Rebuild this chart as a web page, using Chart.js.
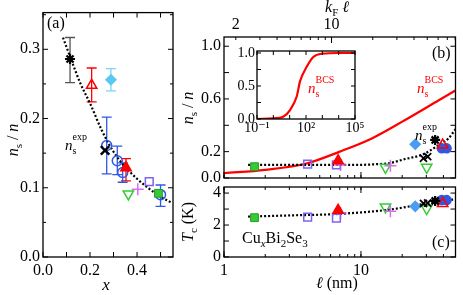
<!DOCTYPE html>
<html>
<head>
<meta charset="utf-8">
<script src="https://cdn.jsdelivr.net/npm/chart.js@4.4.1/dist/chart.umd.min.js"></script>
<style>
html, body { margin: 0; padding: 0; background: #fff; }
#wrap { position: relative; width: 463px; height: 295px; overflow: hidden; }
#wrap canvas { position: absolute; left: 0; top: 0; }
</style>
</head>
<body>
<div id="wrap">
  <canvas id="chartA" width="463" height="295"></canvas>
  <canvas id="chartB" width="463" height="295"></canvas>
  <canvas id="chartC" width="463" height="295"></canvas>
  <canvas id="chartInset" width="463" height="295"></canvas>
</div>
<script>
// ---- panel (a): n_s/n vs Cu content x ----
const aXTicks = [0, 0.2, 0.4];
const aYTicks = [0, 0.1, 0.2, 0.3];
const aStarX = [0.115], aStarNs = [0.286], aStarLo = [0.252], aStarHi = [0.317];
const aTriOpenX = [0.207], aTriOpenNs = [0.248], aTriOpenLo = [0.224], aTriOpenHi = [0.273];
const aDiamondX = [0.289], aDiamondNs = [0.256], aDiamondLo = [0.240], aDiamondHi = [0.272];
const aCircleX = [0.271, 0.316, 0.339, 0.500];
const aCircleNs = [0.161, 0.139, 0.122, 0.090];
const aCircleLo = [0.120, 0.119, 0.108, 0.073];
const aCircleHi = [0.202, 0.160, 0.136, 0.104];
const aCrossX = [0.264], aCrossNs = [0.154];
const aTriX = [0.353], aTriNs = [0.129], aTriLo = [0.110], aTriHi = [0.142];
const aTriDownX = [0.363], aTriDownNs = [0.091];
const aPlusX = [0.403], aPlusNs = [0.098];
const aSquareOpenX = [0.452], aSquareOpenNs = [0.109];
const aSquareX = [0.491], aSquareNs = [0.092];
const aFitX = [0.085, 0.12, 0.16, 0.2, 0.25, 0.3, 0.35, 0.4, 0.45, 0.5, 0.55];
const aFitNs = [0.317, 0.285, 0.25, 0.222, 0.183, 0.152, 0.13, 0.113, 0.099, 0.087, 0.078];

// ---- panels (b) and (c): n_s/n and Tc vs mean free path l (nm) ----
const lTicks = [1, 10];
const kflTicks = [2, 10];
const kF = 1.64; // k_F in 1/nm, top axis = kF * l
const bYTicks = [0, 0.2, 0.6, 1.0];
const cYTicks = [0, 2, 4];
const gSquareL = [1.67], gSquareNs = [0.086], gSquareTc = [2.46];
const pSquareL = [4.08, 6.62], pSquareNs = [0.106, 0.099], pSquareTc = [2.5, 2.43];
const rTriL = [6.81], rTriNs = [0.131], rTriTc = [2.92];
const plusL = [7.1, 16.4], plusNs = [0.098, 0.093], plusTc = [2.75, 2.86];
const gTriDownL = [15.1, 30.2], gTriDownNs = [0.081, 0.081], gTriDownTc = [3.13, 3.03];
const diamondL = [24.9], diamondNs = [0.256], diamondTc = [3.17];
const crossL = [28.6, 30.7], crossNs = [0.15, 0.162], crossTc = [3.35, 3.38];
const starL = [34.8], starNs = [0.289], starTc = [3.51];
const rTriOpenL = [39.5], rTriOpenNs = [0.25], rTriOpenTc = [3.35];
const bCircleL = [38.9, 42.2], bCircleNs = [0.225, 0.225], bCircleTc = [3.56, 3.56];
const bFitL = [1.5, 3, 5, 8, 10, 13, 16, 21, 28, 37, 43.5, 49];
const bFitNs = [0.1, 0.1, 0.1, 0.1, 0.1, 0.105, 0.112, 0.144, 0.177, 0.25, 0.3, 0.37];
const bcsL = [1, 2, 4, 7, 12, 21, 37, 50];
const bcsNs = [0.036, 0.062, 0.11, 0.2, 0.3, 0.44, 0.59, 0.67];
const cFitL = [1.5, 3, 7, 16, 28, 40, 49];
const cFitTc = [2.53, 2.6, 2.7, 2.96, 3.3, 3.5, 3.62];

// ---- inset: n_s^BCS vs k_F l ----
const insetXTicks = [0.1, 100, 1e5];
const insetYTicks = [0, 0.5, 1.0];
const insetKfl = [0.1, 1, 4, 10.5, 27, 43, 110, 280, 1000, 1e4, 1e5];
const insetNs = [0.0, 0.01, 0.035, 0.136, 0.34, 0.57, 0.79, 0.94, 0.99, 1.0, 1.0];

const FONT = '"Liberation Serif", "DejaVu Serif", serif';
Chart.defaults.font.family = FONT;
Chart.defaults.font.size = 16;
Chart.defaults.color = '#000';
Chart.defaults.animation = false;
Chart.defaults.events = [];
Chart.defaults.plugins.legend.display = false;
Chart.defaults.plugins.tooltip.enabled = false;

const RED = '#ff0000', BLUE = '#2f58e6', GREEN = '#33cc33', PURPLE = '#7f62f0', MAGENTA = '#d86ef0';

function pts(xs, ys) { return xs.map((x, i) => ({ x, y: ys[i] })); }

function marker(xs, ys, style, color, o = {}) {
    return {
        data: pts(xs, ys),
        pointStyle: style,
        pointRadius: o.r || 5,
        pointBorderWidth: o.w || 1.5,
        pointRotation: o.rot || 0,
        borderColor: color,
        backgroundColor: o.fill || 'rgba(0,0,0,0)',
        errLo: o.lo, errHi: o.hi, errColor: o.errColor || color
    };
}

function curve(xs, ys, color, dash, w) {
    return {
        data: pts(xs, ys), showLine: true, pointRadius: 0,
        borderColor: color, borderWidth: w || 2, borderDash: dash || [],
        cubicInterpolationMode: 'monotone', fill: false
    };
}

// tick positions for log axes: 1..9 in each decade
function decadeTicks(lo, hi) {
    const out = [];
    for (let e = Math.floor(Math.log10(lo)); e <= Math.ceil(Math.log10(hi)); e++) {
        for (let m = 1; m < 10; m++) {
            const v = m * Math.pow(10, e);
            if (v >= lo * 0.999 && v <= hi * 1.001) out.push(v);
        }
    }
    return out;
}
function steps(lo, hi, d) {
    const out = [];
    for (let v = lo; v <= hi + 1e-9; v += d) out.push(+v.toFixed(4));
    return out;
}

// box around the plot area with inward ticks
const frame = {
    id: 'frame',
    beforeDraw(chart, args, o) {
        if (!o.fill) return;
        const a = chart.chartArea;
        chart.ctx.save();
        chart.ctx.fillStyle = o.fill;
        chart.ctx.fillRect(a.left, a.top, a.width, a.height);
        chart.ctx.restore();
    },
    afterDraw(chart, args, o) {
        const ctx = chart.ctx, a = chart.chartArea;
        ctx.save();
        ctx.strokeStyle = '#000';
        ctx.lineWidth = 1.3;
        ctx.strokeRect(a.left, a.top, a.width, a.height);
        ctx.lineWidth = 1;
        (o.ticks || []).forEach(t => {
            const s = chart.scales[t.axis];
            t.values.forEach(v => {
                const p = s.getPixelForValue(v);
                ctx.beginPath();
                if (s.isHorizontal()) {
                    if (p < a.left - 0.5 || p > a.right + 0.5) return;
                    if (t.sides.includes('bottom')) { ctx.moveTo(p, a.bottom); ctx.lineTo(p, a.bottom - t.len); }
                    if (t.sides.includes('top')) { ctx.moveTo(p, a.top); ctx.lineTo(p, a.top + t.len); }
                } else {
                    if (p < a.top - 0.5 || p > a.bottom + 0.5) return;
                    if (t.sides.includes('left')) { ctx.moveTo(a.left, p); ctx.lineTo(a.left + t.len, p); }
                    if (t.sides.includes('right')) { ctx.moveTo(a.right, p); ctx.lineTo(a.right - t.len, p); }
                }
                ctx.stroke();
            });
        });
        ctx.restore();
    }
};

// vertical error bars with caps
const errorBars = {
    id: 'errorBars',
    beforeDatasetsDraw(chart) {
        const ctx = chart.ctx;
        chart.data.datasets.forEach((ds, i) => {
            if (!ds.errLo) return;
            const meta = chart.getDatasetMeta(i);
            const xs = chart.scales[meta.xAxisID], ys = chart.scales[meta.yAxisID];
            ctx.save();
            ctx.strokeStyle = ds.errColor;
            ctx.lineWidth = 1.3;
            ds.data.forEach((p, j) => {
                const px = xs.getPixelForValue(p.x);
                const y1 = ys.getPixelForValue(ds.errLo[j]);
                const y2 = ys.getPixelForValue(ds.errHi[j]);
                ctx.beginPath();
                ctx.moveTo(px, y1); ctx.lineTo(px, y2);
                ctx.moveTo(px - 5, y1); ctx.lineTo(px + 5, y1);
                ctx.moveTo(px - 5, y2); ctx.lineTo(px + 5, y2);
                ctx.stroke();
            });
            ctx.restore();
        });
    }
};

// text with sub/superscripts
function T(t, size, o = {}) { return Object.assign({ t, size }, o); }
const texts = {
    id: 'texts',
    afterDraw(chart, args, o) {
        const ctx = chart.ctx;
        (o.items || []).forEach(item => {
            ctx.save();
            ctx.translate(item.x, item.y);
            if (item.rotate) ctx.rotate(item.rotate);
            ctx.fillStyle = item.color || '#000';
            ctx.textBaseline = 'alphabetic';
            let x = 0, prev = 0;
            const pos = [];
            item.parts.forEach(p => {
                ctx.font = (p.it ? 'italic ' : '') + p.size + 'px ' + FONT;
                const start = p.stack ? prev : x;
                pos.push(start);
                prev = start;
                x = Math.max(x, start + ctx.measureText(p.t).width);
            });
            const shift = item.align === 'center' ? -x / 2 : 0;
            item.parts.forEach((p, i) => {
                ctx.font = (p.it ? 'italic ' : '') + p.size + 'px ' + FONT;
                ctx.fillText(p.t, pos[i] + shift, p.dy || 0);
            });
            ctx.restore();
        });
    }
};

Chart.register(frame, errorBars, texts);

const hiddenGrid = { display: false, drawTicks: false };
const noBorder = { display: false };
const setTicks = list => s => { s.ticks = list.map(v => ({ value: v })); };

const nsParts = [T('n', 16, { it: true }), T('s', 11, { dy: 4 }), T(' / ', 16), T('n', 16, { it: true })];
const nsExp = [T('n', 15, { it: true }), T('s', 10, { dy: 4 }), T('exp', 10, { dy: -10, stack: true })];
const nsBcs = [T('n', 15, { it: true }), T('s', 10, { dy: 4 }), T('BCS', 10, { dy: -10, stack: true })];

// ---------- panel (a) ----------
new Chart(document.getElementById('chartA'), {
    type: 'scatter',
    data: { datasets: [
        marker(aStarX, aStarNs, 'star', '#000', { r: 5, w: 2.2, lo: aStarLo, hi: aStarHi, errColor: '#555' }),
        marker(aCrossX, aCrossNs, 'crossRot', '#000', { r: 6, w: 2.4 }),
        marker(aSquareX, aSquareNs, 'rect', '#2a9a2a', { r: 5.5, w: 1, fill: GREEN }),
        marker(aTriOpenX, aTriOpenNs, 'triangle', RED, { r: 6, lo: aTriOpenLo, hi: aTriOpenHi }),
        marker(aTriX, aTriNs, 'triangle', RED, { r: 6, fill: RED, lo: aTriLo, hi: aTriHi }),
        marker(aDiamondX, aDiamondNs, 'rectRot', '#5bc8f2', { r: 5, fill: '#5bc8f2', lo: aDiamondLo, hi: aDiamondHi, errColor: '#7ad6f6' }),
        marker(aCircleX, aCircleNs, 'circle', BLUE, { r: 5, lo: aCircleLo, hi: aCircleHi }),
        marker(aTriDownX, aTriDownNs, 'triangle', GREEN, { r: 6, rot: 180 }),
        marker(aPlusX, aPlusNs, 'cross', MAGENTA, { r: 6 }),
        marker(aSquareOpenX, aSquareOpenNs, 'rect', PURPLE, { r: 5.5 }),
        curve(aFitX, aFitNs, '#000', [2, 2], 2.2)
    ] },
    options: {
        responsive: false,
        layout: { padding: { left: 0, top: 10, right: 290, bottom: 0 } },
        scales: {
            x: {
                type: 'linear', min: 0, max: 0.553,
                afterFit: s => { s.height = 38; },
                afterBuildTicks: setTicks(aXTicks),
                grid: hiddenGrid, border: noBorder,
                ticks: { padding: 4, autoSkip: false, maxRotation: 0, callback: v => v.toFixed(1) }
            },
            y: {
                type: 'linear', min: 0, max: 0.353,
                afterFit: s => { s.width = 43; },
                afterBuildTicks: setTicks(aYTicks),
                grid: hiddenGrid, border: noBorder,
                ticks: { padding: 3, autoSkip: false, callback: v => v.toFixed(1) }
            }
        },
        plugins: {
            frame: { ticks: [
                { axis: 'x', values: steps(0, 0.5, 0.1), sides: ['bottom', 'top'], len: 5 },
                { axis: 'y', values: aYTicks, sides: ['left', 'right'], len: 5 },
                { axis: 'y', values: [0.05, 0.15, 0.25, 0.35], sides: ['left', 'right'], len: 3 }
            ] },
            texts: { items: [
                { x: 47, y: 28, parts: [T('(a)', 16)] },
                { x: 65, y: 150, parts: nsExp },
                { x: 18, y: 140, rotate: -Math.PI / 2, align: 'center', parts: nsParts },
                { x: 106, y: 290, align: 'center', parts: [T('x', 17, { it: true })] }
            ] }
        }
    }
});

// ---------- panel (b) ----------
function bcMarkers(key) {
    const pick = (ns, tc) => key === 'ns' ? ns : tc;
    return [
        marker(starL, pick(starNs, starTc), 'star', '#000', { r: 5, w: 2.2 }),
        marker(crossL, pick(crossNs, crossTc), 'crossRot', '#000', { r: 5, w: 1.8 }),
        marker(rTriOpenL, pick(rTriOpenNs, rTriOpenTc), 'triangle', RED, { r: 6 }),
        marker(bCircleL, pick(bCircleNs, bCircleTc), 'circle', BLUE, { r: 4.5, fill: BLUE }),
        marker(diamondL, pick(diamondNs, diamondTc), 'rectRot', '#4c9cf0', { r: 5, fill: '#4c9cf0' }),
        marker(rTriL, pick(rTriNs, rTriTc), 'triangle', RED, { r: 6, fill: RED }),
        marker(gSquareL, pick(gSquareNs, gSquareTc), 'rect', '#2a9a2a', { r: 5.5, w: 1, fill: GREEN }),
        marker(pSquareL, pick(pSquareNs, pSquareTc), 'rect', PURPLE, { r: 5.5 }),
        marker(plusL, pick(plusNs, plusTc), 'cross', MAGENTA, { r: 6 }),
        marker(gTriDownL, pick(gTriDownNs, gTriDownTc), 'triangle', GREEN, { r: 6, rot: 180 })
    ];
}

const lMinor = decadeTicks(1, 49);
const kMinor = decadeTicks(kF, kF * 49);

new Chart(document.getElementById('chartB'), {
    type: 'scatter',
    data: { datasets: bcMarkers('ns').concat([
        curve(bFitL, bFitNs, '#000', [2, 2], 2.2),
        curve(bcsL, bcsNs, RED, [], 2.2)
    ]) },
    options: {
        responsive: false,
        layout: { padding: { left: 180, top: 0, right: 6, bottom: 117 } },
        scales: {
            x: { type: 'logarithmic', min: 1, max: 49, display: false },
            x2: {
                type: 'logarithmic', position: 'top', min: kF * 1, max: kF * 49,
                afterFit: s => { s.height = 37; },
                afterBuildTicks: setTicks(kflTicks),
                grid: hiddenGrid, border: noBorder,
                ticks: { padding: 3, autoSkip: false, maxRotation: 0, callback: v => String(v) }
            },
            y: {
                type: 'linear', min: 0, max: 1.07,
                afterFit: s => { s.width = 44; },
                afterBuildTicks: setTicks(bYTicks),
                grid: hiddenGrid, border: noBorder,
                ticks: { padding: 3, autoSkip: false, callback: v => v.toFixed(1) }
            }
        },
        plugins: {
            frame: { ticks: [
                { axis: 'x', values: lMinor, sides: ['bottom'], len: 3 },
                { axis: 'x', values: lTicks, sides: ['bottom'], len: 6 },
                { axis: 'x2', values: kMinor, sides: ['top'], len: 3 },
                { axis: 'x2', values: [10], sides: ['top'], len: 6 },
                { axis: 'y', values: steps(0, 1.0, 0.2), sides: ['left', 'right'], len: 5 }
            ] },
            texts: { items: [
                { x: 432, y: 58, parts: [T('(b)', 16)] },
                { x: 417, y: 93, color: RED, parts: nsBcs },
                { x: 415, y: 140, parts: nsExp },
                { x: 193, y: 108, rotate: -Math.PI / 2, align: 'center', parts: nsParts },
                { x: 337, y: 12, align: 'center', parts: [T('k', 16, { it: true }), T('F', 11, { dy: 4 }), T(' \u2113', 16, { it: true })] }
            ] }
        }
    }
});

// ---------- panel (c) ----------
new Chart(document.getElementById('chartC'), {
    type: 'scatter',
    data: { datasets: bcMarkers('tc').concat([
        curve(cFitL, cFitTc, '#000', [2, 2], 2.2)
    ]) },
    options: {
        responsive: false,
        layout: { padding: { left: 180, top: 187, right: 6, bottom: 0 } },
        scales: {
            x: {
                type: 'logarithmic', min: 1, max: 49,
                afterFit: s => { s.height = 38; },
                afterBuildTicks: setTicks(lTicks),
                grid: hiddenGrid, border: noBorder,
                ticks: { padding: 4, autoSkip: false, maxRotation: 0, callback: v => String(v) }
            },
            y: {
                type: 'linear', min: 0, max: 4.38,
                afterFit: s => { s.width = 44; },
                afterBuildTicks: setTicks(cYTicks),
                grid: hiddenGrid, border: noBorder,
                ticks: { padding: 3, autoSkip: false, callback: v => String(v) }
            }
        },
        plugins: {
            frame: { ticks: [
                { axis: 'x', values: lMinor, sides: ['bottom', 'top'], len: 3 },
                { axis: 'x', values: lTicks, sides: ['bottom', 'top'], len: 6 },
                { axis: 'y', values: [0, 1, 2, 3, 4], sides: ['left', 'right'], len: 5 }
            ] },
            texts: { items: [
                { x: 432, y: 247, parts: [T('(c)', 16)] },
                { x: 242, y: 243, parts: [T('Cu', 16), T('x', 11, { it: true, dy: 4 }), T('Bi', 16), T('2', 11, { dy: 4 }), T('Se', 16), T('3', 11, { dy: 4 })] },
                { x: 193, y: 222, rotate: -Math.PI / 2, align: 'center', parts: [T('T', 16, { it: true }), T('c', 11, { dy: 4 }), T(' (K)', 16)] },
                { x: 337, y: 288, align: 'center', parts: [T('\u2113', 16, { it: true }), T(' (nm)', 16)] }
            ] }
        }
    }
});

// ---------- inset ----------
const sup = { '-': '\u207B', '1': '\u00B9', '2': '\u00B2', '5': '\u2075' };
new Chart(document.getElementById('chartInset'), {
    type: 'scatter',
    data: { datasets: [curve(insetKfl, insetNs, RED, [], 2.2)] },
    options: {
        responsive: false,
        layout: { padding: { left: 200, top: 51, right: 108, bottom: 0 } },
        scales: {
            x: {
                type: 'logarithmic', min: 0.1, max: 1e5,
                afterFit: s => { s.height = 176; },
                afterBuildTicks: setTicks(insetXTicks),
                grid: hiddenGrid, border: noBorder,
                ticks: { padding: 1, autoSkip: false, maxRotation: 0, font: { size: 14 },
                    callback: v => '10' + String(Math.round(Math.log10(v))).split('').map(c => sup[c]).join('') }
            },
            y: {
                type: 'linear', min: 0, max: 1.03,
                afterFit: s => { s.width = 57; },
                afterBuildTicks: setTicks(insetYTicks),
                grid: hiddenGrid, border: noBorder,
                ticks: { padding: 2, autoSkip: false, font: { size: 14 }, callback: v => v.toFixed(1) }
            }
        },
        plugins: {
            frame: { fill: '#fff', ticks: [
                { axis: 'x', values: [0.1, 1, 10, 100, 1000, 1e4, 1e5], sides: ['bottom', 'top'], len: 4 },
                { axis: 'y', values: [0, 0.25, 0.5, 0.75, 1.0], sides: ['left', 'right'], len: 4 }
            ] },
            texts: { items: [
                { x: 308, y: 93, color: RED, parts: nsBcs }
            ] }
        }
    }
});
</script>
</body>
</html>
